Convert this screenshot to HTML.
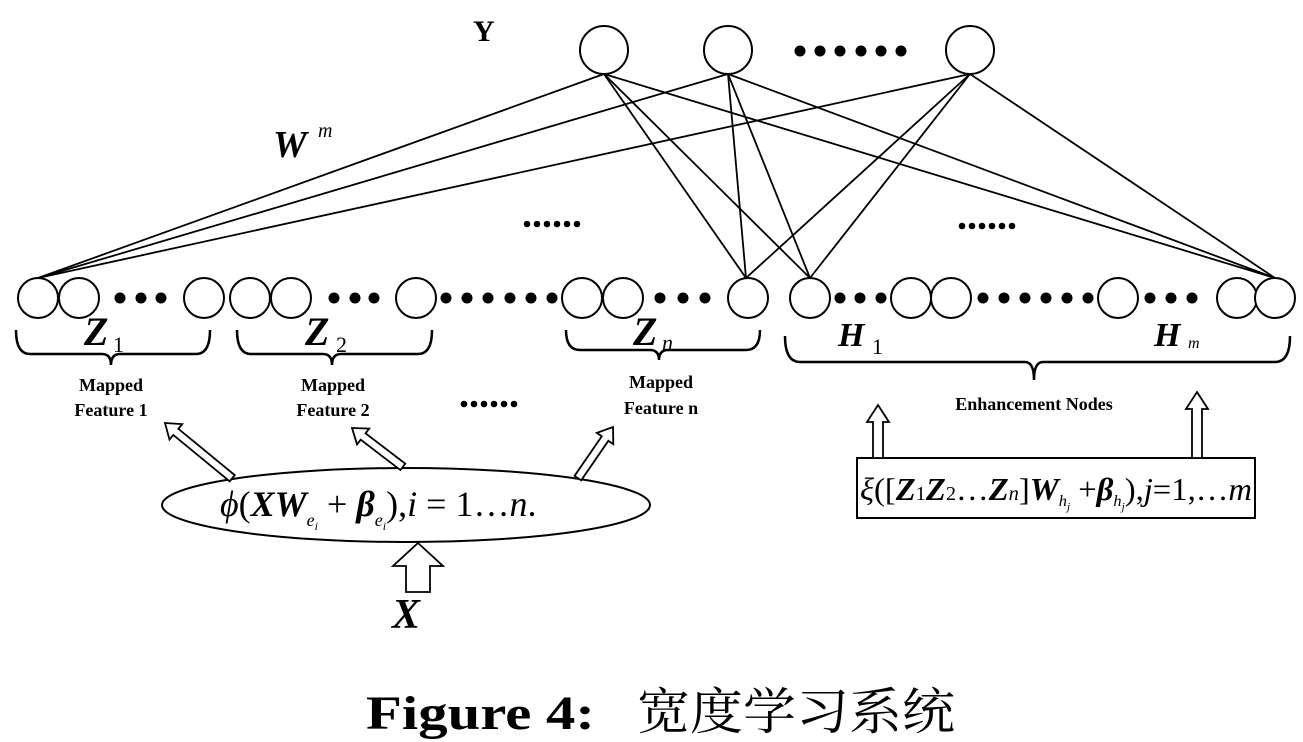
<!DOCTYPE html>
<html><head><meta charset="utf-8"><style>
html,body{margin:0;padding:0;background:#fff;}
svg{display:block;}
.s{font-family:"Liberation Serif","Noto Serif CJK SC",serif;}
</style></head><body>
<svg width="1303" height="742" viewBox="0 0 1303 742" xmlns="http://www.w3.org/2000/svg">
<g stroke="#000" stroke-width="1.8" fill="none">
<line x1="604" y1="74" x2="38" y2="278"/>
<line x1="604" y1="74" x2="746" y2="278"/>
<line x1="604" y1="74" x2="810" y2="278"/>
<line x1="604" y1="74" x2="1275" y2="278"/>
<line x1="728" y1="74" x2="38" y2="278"/>
<line x1="728" y1="74" x2="746" y2="278"/>
<line x1="728" y1="74" x2="810" y2="278"/>
<line x1="728" y1="74" x2="1275" y2="278"/>
<line x1="970" y1="74" x2="38" y2="278"/>
<line x1="970" y1="74" x2="746" y2="278"/>
<line x1="970" y1="74" x2="810" y2="278"/>
<line x1="970" y1="74" x2="1275" y2="278"/>
</g>
<g stroke="#000" stroke-width="2" fill="#fff">
<ellipse cx="604" cy="50" rx="24" ry="24"/>
<ellipse cx="728" cy="50" rx="24" ry="24"/>
<ellipse cx="970" cy="50" rx="24" ry="24"/>
<ellipse cx="38" cy="298" rx="20" ry="20"/>
<ellipse cx="79" cy="298" rx="20" ry="20"/>
<ellipse cx="204" cy="298" rx="20" ry="20"/>
<ellipse cx="250" cy="298" rx="20" ry="20"/>
<ellipse cx="291" cy="298" rx="20" ry="20"/>
<ellipse cx="416" cy="298" rx="20" ry="20"/>
<ellipse cx="582" cy="298" rx="20" ry="20"/>
<ellipse cx="623" cy="298" rx="20" ry="20"/>
<ellipse cx="748" cy="298" rx="20" ry="20"/>
<ellipse cx="810" cy="298" rx="20" ry="20"/>
<ellipse cx="911" cy="298" rx="20" ry="20"/>
<ellipse cx="951" cy="298" rx="20" ry="20"/>
<ellipse cx="1118" cy="298" rx="20" ry="20"/>
<ellipse cx="1237" cy="298" rx="20" ry="20"/>
<ellipse cx="1275" cy="298" rx="20" ry="20"/>
</g>
<g fill="#000">
<circle cx="800" cy="51" r="5.5"/><circle cx="820" cy="51" r="5.5"/><circle cx="840" cy="51" r="5.5"/><circle cx="861" cy="51" r="5.5"/><circle cx="881" cy="51" r="5.5"/><circle cx="901" cy="51" r="5.5"/>
<circle cx="120" cy="298" r="5.5"/><circle cx="141" cy="298" r="5.5"/><circle cx="161" cy="298" r="5.5"/>
<circle cx="334" cy="298" r="5.5"/><circle cx="355" cy="298" r="5.5"/><circle cx="374" cy="298" r="5.5"/>
<circle cx="446" cy="298" r="5.5"/><circle cx="467" cy="298" r="5.5"/><circle cx="488" cy="298" r="5.5"/><circle cx="510" cy="298" r="5.5"/><circle cx="531" cy="298" r="5.5"/><circle cx="552" cy="298" r="5.5"/>
<circle cx="660" cy="298" r="5.5"/><circle cx="683" cy="298" r="5.5"/><circle cx="705" cy="298" r="5.5"/>
<circle cx="840" cy="298" r="5.5"/><circle cx="860" cy="298" r="5.5"/><circle cx="881" cy="298" r="5.5"/>
<circle cx="983" cy="298" r="5.5"/><circle cx="1004" cy="298" r="5.5"/><circle cx="1025" cy="298" r="5.5"/><circle cx="1046" cy="298" r="5.5"/><circle cx="1067" cy="298" r="5.5"/><circle cx="1088" cy="298" r="5.5"/>
<circle cx="1150" cy="298" r="5.5"/><circle cx="1171" cy="298" r="5.5"/><circle cx="1192" cy="298" r="5.5"/>
<circle cx="527" cy="224" r="3.3"/><circle cx="537" cy="224" r="3.3"/><circle cx="547" cy="224" r="3.3"/><circle cx="557" cy="224" r="3.3"/><circle cx="567" cy="224" r="3.3"/><circle cx="577" cy="224" r="3.3"/>
<circle cx="962" cy="226" r="3.3"/><circle cx="972" cy="226" r="3.3"/><circle cx="982" cy="226" r="3.3"/><circle cx="992" cy="226" r="3.3"/><circle cx="1002" cy="226" r="3.3"/><circle cx="1012" cy="226" r="3.3"/>
<circle cx="464" cy="404" r="3.3"/><circle cx="474" cy="404" r="3.3"/><circle cx="484" cy="404" r="3.3"/><circle cx="494" cy="404" r="3.3"/><circle cx="504" cy="404" r="3.3"/><circle cx="514" cy="404" r="3.3"/>
</g>
<g stroke="#000" stroke-width="2.5" fill="none">
<path d="M16 330 Q16 354 30 354 L102 354 Q111 354 111 365 Q111 354 120 354 L196 354 Q210 354 210 330"/>
<path d="M237 330 Q237 354 251 354 L323 354 Q332 354 332 365 Q332 354 341 354 L418 354 Q432 354 432 330"/>
<path d="M566 330 Q566 350 580 350 L650 350 Q659 350 659 360 Q659 350 668 350 L746 350 Q760 350 760 330"/>
<path d="M785 336 Q785 362 800 362 L1025 362 Q1034 362 1034 380 Q1034 362 1043 362 L1275 362 Q1290 362 1290 336"/>
</g>
<g class="s" font-weight="bold" fill="#000">
<text x="473" y="41" font-size="30">Y</text>
<text x="273" y="157" font-size="38" font-style="italic">W</text>
<text x="318" y="137" font-size="20" font-style="italic" font-weight="normal">m</text>
<text x="84" y="345" font-size="40" font-style="italic">Z</text><text x="113" y="352" font-size="22" font-weight="normal">1</text>
<text x="305" y="345" font-size="40" font-style="italic">Z</text><text x="336" y="352" font-size="22" font-weight="normal">2</text>
<text x="633" y="345" font-size="40" font-style="italic">Z</text><text x="662" y="350" font-size="22" font-weight="normal" font-style="italic">n</text>
<text x="838" y="346" font-size="34" font-style="italic">H</text><text x="872" y="354" font-size="22" font-weight="normal">1</text>
<text x="1154" y="346" font-size="34" font-style="italic">H</text><text x="1188" y="348" font-size="16" font-weight="normal" font-style="italic">m</text>
<g font-size="18" text-anchor="middle">
<text x="111" y="391">Mapped</text><text x="111" y="416">Feature 1</text>
<text x="333" y="391">Mapped</text><text x="333" y="416">Feature 2</text>
<text x="661" y="388">Mapped</text><text x="661" y="414">Feature n</text>
<text x="1034" y="410">Enhancement Nodes</text>
</g>
<text x="392" y="628" font-size="42" font-style="italic">X</text>
</g>
<ellipse cx="406" cy="505" rx="244" ry="37" stroke="#000" stroke-width="2" fill="#fff"/>
<text class="s" x="220" y="516" font-size="36" fill="#000"><tspan font-style="italic">ϕ</tspan>(<tspan font-style="italic" font-weight="bold">XW</tspan><tspan font-size="18" font-style="italic" dy="10">e</tspan><tspan font-size="12" font-style="italic" dy="4">i</tspan><tspan dy="-14"> + </tspan><tspan font-style="italic" font-weight="bold">β</tspan><tspan font-size="18" font-style="italic" dy="10">e</tspan><tspan font-size="12" font-style="italic" dy="4">i</tspan><tspan dy="-14">),</tspan><tspan font-style="italic">i</tspan> = 1…<tspan font-style="italic">n</tspan>.</text>
<rect x="857" y="458" width="398" height="60" stroke="#000" stroke-width="2" fill="#fff"/>
<text class="s" x="860" y="500" font-size="32" fill="#000" textLength="392" lengthAdjust="spacingAndGlyphs"><tspan font-style="italic">ξ</tspan>([<tspan font-style="italic" font-weight="bold">Z</tspan><tspan font-size="20">1</tspan><tspan font-style="italic" font-weight="bold">Z</tspan><tspan font-size="20">2</tspan>…<tspan font-style="italic" font-weight="bold">Z</tspan><tspan font-size="20" font-style="italic">n</tspan>]<tspan font-style="italic" font-weight="bold">W</tspan><tspan font-size="16" font-style="italic" dy="6">h</tspan><tspan font-size="11" font-style="italic" dy="4">j</tspan><tspan dy="-10"> +</tspan><tspan font-style="italic" font-weight="bold">β</tspan><tspan font-size="16" font-style="italic" dy="6">h</tspan><tspan font-size="11" font-style="italic" dy="4">j</tspan><tspan dy="-10">),</tspan><tspan font-style="italic">j</tspan>=1,…<tspan font-style="italic">m</tspan></text>
<g stroke="#000" stroke-width="1.8" fill="#fff">
<g transform="translate(165,423) rotate(-50.6)"><polygon points="0,0 10,14 4,14 4,87 -4,87 -4,14 -10,14"/></g>
<g transform="translate(352,428) rotate(-52.6)"><polygon points="0,0 10,14 4,14 4,64 -4,64 -4,14 -10,14"/></g>
<g transform="translate(613,427) rotate(34.5)"><polygon points="0,0 10,14 4,14 4,62 -4,62 -4,14 -10,14"/></g>
<polygon points="418,543 443,566 430,566 430,592 406,592 406,566 393,566"/>
<polygon points="878,405 889,422 883,422 883,458 873,458 873,422 867,422"/>
<polygon points="1197,392 1208,409 1202,409 1202,458 1192,458 1192,409 1186,409"/>
</g>
<text x="366" y="729" font-size="48" font-weight="bold" fill="#000" font-family="'Liberation Serif',serif" textLength="229" lengthAdjust="spacingAndGlyphs">Figure 4:</text>
<text x="637" y="729" font-size="50" fill="#000" font-family="'Liberation Serif','Noto Serif CJK SC',serif" textLength="318" lengthAdjust="spacingAndGlyphs">宽度学习系统</text>
</svg>
</body></html>
